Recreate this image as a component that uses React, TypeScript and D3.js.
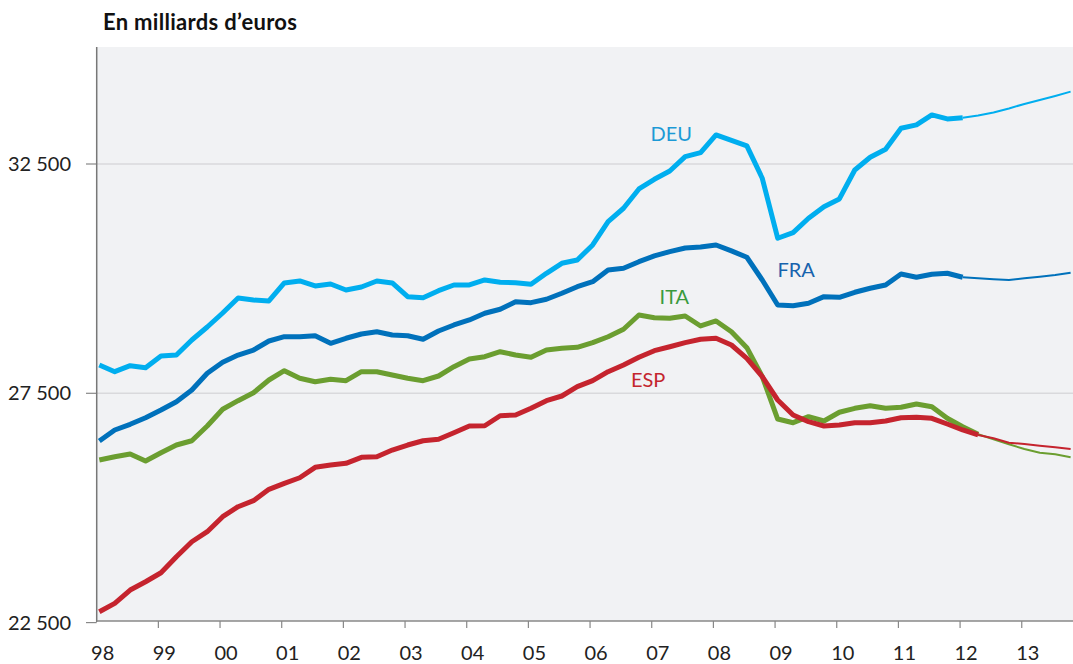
import React from "react";
import * as d3 from "d3";

// quarterly series, 1998Q1 .. 2013Q4 (thin part = projection)
const yearLabels = ["98", "99", "00", "01", "02", "03", "04", "05", "06", "07", "08", "09", "10", "11", "12", "13"];
const firstYear = 1998;
const yTicks = [22500, 27500, 32500];

const deu = [
  28117, 27971, 28102, 28058, 28314, 28335, 28663, 28946,
  29251, 29578, 29535, 29513, 29906, 29949, 29840, 29884,
  29753, 29818, 29949, 29906, 29607, 29585, 29738, 29862,
  29862, 29971, 29921, 29912, 29877, 30117, 30335, 30407,
  30734, 31243, 31535, 31956, 32167, 32348, 32660, 32748,
  33133, 33014, 32894, 32189, 30881, 31003, 31317, 31570,
  31738, 32370, 32647, 32822, 33280, 33352, 33570, 33483,
  33511, 33559, 33624, 33711, 33810, 33897, 33984, 34078,
];
const fra = [
  26460, 26700, 26824, 26968, 27136, 27317, 27572, 27936,
  28176, 28335, 28444, 28641, 28734, 28734, 28756, 28591,
  28700, 28793, 28843, 28772, 28756, 28678, 28859, 28990,
  29099, 29245, 29332, 29498, 29476, 29550, 29681, 29825,
  29934, 30189, 30226, 30370, 30495, 30588, 30669, 30691,
  30734, 30604, 30466, 29971, 29426, 29411, 29463, 29607,
  29594, 29703, 29790, 29862, 30102, 30030, 30095, 30117,
  30030, 30008, 29986, 29971, 30008, 30043, 30080, 30130,
];
const ita = [
  26045, 26117, 26176, 26023, 26204, 26372, 26466, 26787,
  27151, 27339, 27513, 27790, 27993, 27827, 27753, 27805,
  27775, 27971, 27971, 27899, 27827, 27775, 27877, 28080,
  28248, 28298, 28407, 28335, 28285, 28444, 28481, 28503,
  28604, 28734, 28896, 29208, 29149, 29136, 29186, 28968,
  29077, 28843, 28495, 27862, 26939, 26859, 26990, 26896,
  27086, 27173, 27230, 27173, 27195, 27267, 27208, 26955,
  26772, 26606, 26497, 26388, 26285, 26204, 26170, 26104,
];
const esp = [
  22737, 22920, 23210, 23391, 23587, 23936, 24263, 24482,
  24809, 25027, 25158, 25406, 25537, 25659, 25886, 25936,
  25973, 26104, 26117, 26263, 26372, 26466, 26497, 26641,
  26787, 26793, 27011, 27027, 27173, 27339, 27441, 27644,
  27775, 27971, 28117, 28285, 28429, 28516, 28604, 28678,
  28700, 28553, 28263, 27862, 27354, 27027, 26881, 26787,
  26809, 26859, 26859, 26896, 26968, 26977, 26955, 26830,
  26700, 26591, 26519, 26423, 26394, 26357, 26322, 26285,
];

const series = [
  { name: "DEU", values: deu, last: 56, color: "#00aeef", text: "#1c9ad6", lx: 37.1, ly: 33000 },
  { name: "FRA", values: fra, last: 56, color: "#0071bb", text: "#1763ad", lx: 45.2, ly: 30040 },
  { name: "ITA", values: ita, last: 57, color: "#6b9e30", text: "#3a9a3c", lx: 37.3, ly: 29450 },
  { name: "ESP", values: esp, last: 57, color: "#c5242e", text: "#c4262e", lx: 35.6, ly: 27645 },
];

const W = 1073;
const H = 664;
const left = 96.7;
const top = 47;
const bottom = 621;
const font = "Lato, 'Open Sans', sans-serif";

export default function App() {
  const x = d3.scaleLinear().domain([firstYear, firstYear + 16]).range([left, left + 16 * 61.67]);
  const y = d3.scaleLinear().domain([22500, 32500]).range([622.6, 164]);
  const qx = (i: number) => x(firstYear + (i + 0.17) / 4);

  const line = d3
    .line<[number, number]>()
    .x((d) => qx(d[0]))
    .y((d) => y(d[1]));

  const fmt = (v: number) => d3.format(",")(v).replace(",", " ");

  return (
    <svg width={W} height={H} style={{ position: "absolute", left: 0, top: 0, background: "#fff" }}>
      <defs>
        <clipPath id="plot">
          <rect x={left} y={top} width={W - left} height={bottom - top} />
        </clipPath>
      </defs>
      <text x={103} y={30} fontFamily={font} fontWeight="bold" fontSize={22} letterSpacing={0.3} fill="#111">
        En milliards d’euros
      </text>
      <rect x={left} y={top} width={W - left} height={bottom - top} fill="#f1f2f4" />
      {yTicks.map((t) => (
        <g key={t}>
          {t > 22500 && <line x1={left} x2={W} y1={y(t)} y2={y(t)} stroke="#d9d9dc" strokeWidth={1.5} />}
          <line x1={86} x2={left} y1={y(t)} y2={y(t)} stroke="#888" strokeWidth={1.2} />
          <text x={71} y={y(t) + 7} textAnchor="end" fontFamily={font} fontSize={20} fill="#222">
            {fmt(t)}
          </text>
        </g>
      ))}
      <g clipPath="url(#plot)">
        {series.map((s) => {
          const pts = s.values.map((v, i) => [i, v] as [number, number]);
          return (
            <g key={s.name}>
              <path d={line(pts.slice(s.last)) || ""} fill="none" stroke={s.color} strokeWidth={2} strokeLinejoin="round" />
              <path d={line(pts.slice(0, s.last + 1)) || ""} fill="none" stroke={s.color} strokeWidth={5} strokeLinejoin="round" />
            </g>
          );
        })}
      </g>
      {series.map((s) => (
        <text key={s.name} x={qx(s.lx)} y={y(s.ly)} textAnchor="middle" fontFamily={font} fontSize={20} fill={s.text}>
          {s.name}
        </text>
      ))}
      <line x1={left} x2={left} y1={top} y2={bottom + 1} stroke="#777" strokeWidth={1.5} />
      <line x1={left} x2={W} y1={bottom} y2={bottom} stroke="#888" strokeWidth={1.5} />
      {yearLabels.map((lab, k) => (
        <g key={lab}>
          {k > 0 && (
            <line x1={x(firstYear + k)} x2={x(firstYear + k)} y1={bottom} y2={bottom + 7} stroke="#888" strokeWidth={1.2} />
          )}
          <text x={x(firstYear + k) + 6} y={660} textAnchor="middle" fontFamily={font} fontSize={20} fill="#222">
            {lab}
          </text>
        </g>
      ))}
    </svg>
  );
}
